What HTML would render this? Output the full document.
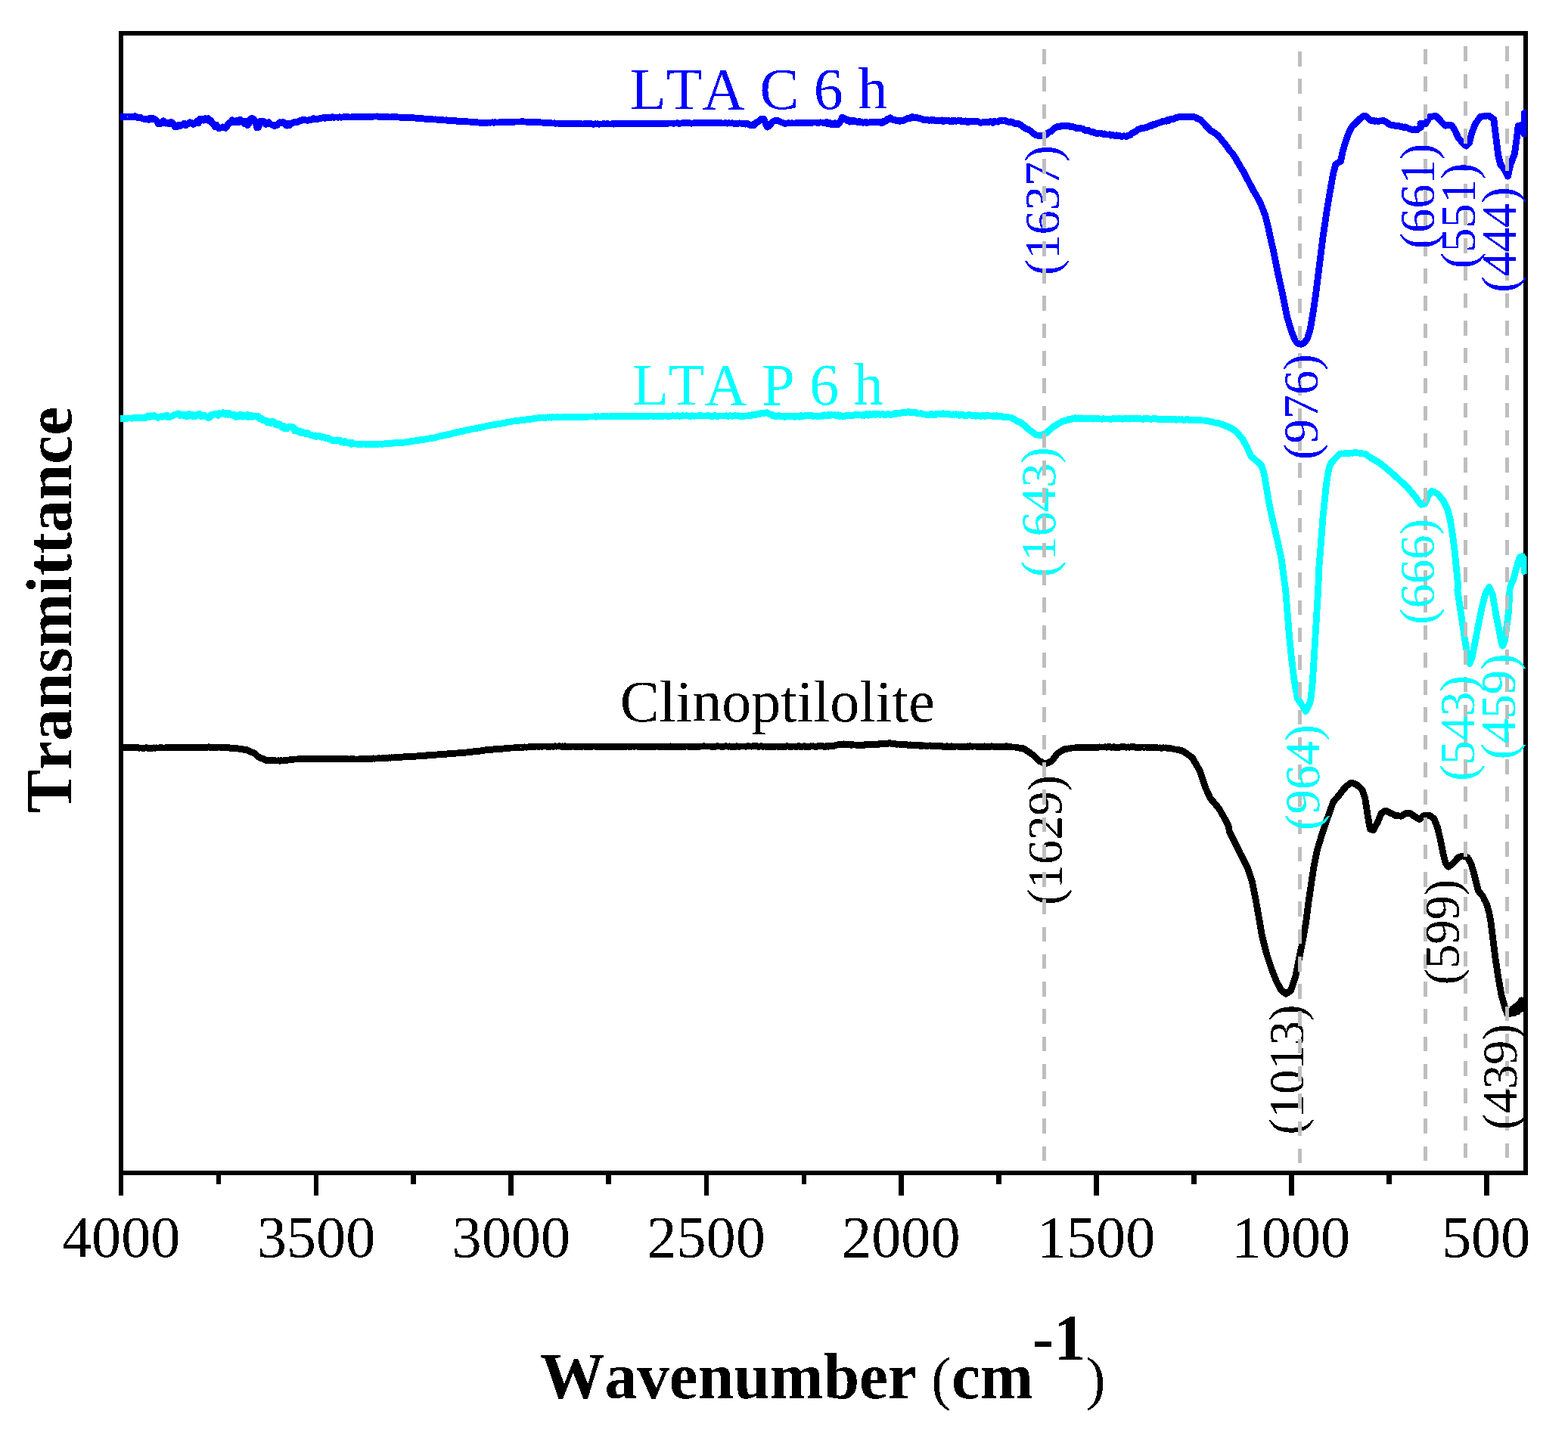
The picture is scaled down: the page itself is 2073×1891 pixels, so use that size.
<!DOCTYPE html>
<html lang="en"><head><meta charset="utf-8"><title>FTIR spectra</title>
<style>
html,body{margin:0;padding:0;background:#fff;}
body{width:2073px;height:1891px;overflow:hidden;}
svg{display:block;}
text{font-family:"Liberation Serif",serif;font-kerning:none;font-variant-ligatures:none;}
</style></head><body>
<svg width="2073" height="1891" viewBox="0 0 2073 1891" role="img" aria-label="FTIR transmittance spectra of LTA C 6 h, LTA P 6 h and Clinoptilolite">
<rect x="0" y="0" width="2073" height="1891" fill="#fff"/>
<g id="frame" fill="#000" shape-rendering="crispEdges">
<rect x="157" y="41" width="1863" height="6"/>
<rect x="157" y="1548" width="1863" height="6"/>
<rect x="157" y="41" width="6" height="1513"/>
<rect x="2014" y="41" width="6" height="1513"/>
<rect x="157" y="1551" width="6" height="30"/>
<rect x="286" y="1551" width="6" height="15"/>
<rect x="415" y="1551" width="6" height="30"/>
<rect x="543" y="1551" width="7" height="15"/>
<rect x="672" y="1551" width="7" height="30"/>
<rect x="801" y="1551" width="7" height="15"/>
<rect x="931" y="1551" width="6" height="30"/>
<rect x="1060" y="1551" width="6" height="15"/>
<rect x="1188" y="1551" width="7" height="30"/>
<rect x="1317" y="1551" width="7" height="15"/>
<rect x="1446" y="1551" width="7" height="30"/>
<rect x="1575" y="1551" width="7" height="15"/>
<rect x="1704" y="1551" width="7" height="30"/>
<rect x="1833" y="1551" width="7" height="15"/>
<rect x="1962" y="1551" width="7" height="30"/>
</g>
<defs><filter id="hard" x="-5%" y="-5%" width="110%" height="110%" color-interpolation-filters="sRGB"><feComponentTransfer><feFuncA type="discrete" tableValues="0 1"/></feComponentTransfer></filter></defs>
<defs><clipPath id="plotclip"><rect x="157" y="41" width="1861.5" height="1513"/></clipPath></defs>
<g id="curves" fill="none" stroke-width="8.8" stroke-linejoin="round" stroke-linecap="butt" clip-path="url(#plotclip)" shape-rendering="crispEdges">
<path stroke="#00ffff" d="M158.9 553.3 L160.5 553.3 L162.1 553.3 L163.7 553.5 L165.3 553.2 L166.9 553.1 L168.5 553.1 L170.1 552.9 L171.7 553.0 L173.4 553.1 L175.0 553.1 L176.6 552.7 L178.2 552.7 L179.8 552.8 L181.4 552.5 L183.0 552.8 L184.6 552.6 L186.2 552.2 L187.8 552.6 L189.4 552.5 L191.0 552.7 L192.7 552.5 L194.3 550.6 L195.9 549.9 L197.5 551.8 L199.1 549.9 L200.7 550.3 L202.3 550.4 L203.9 549.5 L205.6 551.1 L207.2 550.9 L208.8 552.4 L210.4 551.0 L212.0 550.8 L213.7 551.2 L215.5 550.5 L217.2 551.0 L218.9 550.0 L220.7 549.1 L222.4 551.8 L224.2 551.6 L225.9 550.8 L227.6 550.1 L229.4 549.1 L231.1 548.3 L232.9 547.8 L234.7 547.9 L236.5 547.0 L238.2 549.6 L240.0 548.1 L241.8 548.4 L243.4 550.0 L245.1 548.3 L246.7 550.8 L248.4 550.6 L250.0 547.4 L251.7 549.6 L253.3 548.2 L255.0 550.8 L256.6 548.9 L258.3 550.7 L260.0 548.2 L261.6 548.4 L263.4 547.1 L265.2 549.8 L266.9 550.9 L268.7 549.3 L270.5 549.0 L272.2 550.5 L274.0 551.6 L275.8 553.0 L277.6 551.7 L279.3 548.7 L281.1 548.7 L282.9 547.7 L284.6 547.1 L286.4 548.4 L288.1 549.3 L289.7 546.5 L291.4 547.7 L293.0 547.0 L294.7 545.7 L296.3 546.6 L298.1 548.0 L299.9 546.0 L301.6 548.5 L303.4 546.8 L305.2 548.4 L307.0 548.0 L308.7 549.6 L310.4 548.7 L312.0 551.5 L313.7 550.8 L315.3 548.8 L317.0 551.1 L318.7 548.4 L320.3 549.2 L322.0 551.0 L323.6 549.6 L325.3 550.3 L326.9 548.3 L328.6 552.0 L330.2 549.0 L331.9 549.3 L333.5 551.5 L335.2 549.9 L336.8 549.9 L338.5 550.8 L340.1 550.0 L341.8 550.9 L343.5 553.7 L345.1 553.1 L346.8 555.4 L348.4 555.8 L350.1 555.7 L351.7 556.4 L353.4 558.9 L355.0 557.4 L356.7 558.2 L358.3 559.7 L360.0 557.4 L361.6 557.7 L363.3 559.5 L364.9 561.8 L366.6 562.2 L368.3 560.6 L369.9 561.0 L371.6 563.9 L373.2 565.4 L374.9 563.1 L376.5 566.8 L378.2 565.7 L379.8 566.7 L381.5 565.0 L383.1 564.0 L384.8 564.7 L386.4 564.4 L388.1 565.1 L389.7 569.8 L391.4 567.9 L393.1 569.9 L394.7 571.2 L396.4 569.9 L398.0 572.7 L399.7 572.2 L401.3 571.8 L403.0 572.0 L404.6 573.8 L406.3 572.7 L407.9 573.6 L409.6 574.8 L411.2 576.0 L412.9 575.6 L414.6 576.3 L416.3 575.9 L418.0 577.8 L419.8 576.5 L421.5 576.4 L423.2 577.4 L424.9 578.2 L426.6 577.6 L428.4 578.3 L430.1 579.1 L431.8 580.0 L433.5 579.3 L435.2 580.6 L436.8 580.6 L438.4 582.2 L440.1 582.7 L441.7 582.2 L443.3 582.6 L444.9 582.7 L446.5 581.9 L448.1 582.0 L449.7 582.2 L451.3 584.7 L453.0 584.5 L454.6 585.4 L456.2 583.5 L457.8 585.3 L459.4 585.2 L461.0 586.1 L462.6 585.4 L464.2 587.4 L465.8 585.5 L467.5 586.8 L469.1 587.0 L470.8 587.0 L472.4 587.2 L474.1 587.1 L475.7 587.1 L477.4 587.2 L479.0 587.3 L480.7 587.0 L482.3 587.3 L484.0 587.5 L485.6 587.5 L487.3 587.3 L489.0 587.5 L490.6 587.6 L492.3 587.5 L493.9 587.5 L495.6 587.4 L497.2 587.5 L498.8 587.5 L500.5 587.4 L502.1 587.0 L503.7 587.2 L505.3 587.3 L506.9 587.1 L508.5 586.9 L510.2 586.6 L511.8 586.7 L513.4 586.5 L515.0 586.3 L516.6 586.5 L518.2 585.9 L519.9 586.2 L521.5 585.6 L523.1 585.9 L524.7 585.7 L526.3 585.4 L528.0 585.6 L529.6 585.4 L531.2 585.4 L532.8 585.4 L534.4 585.1 L536.0 584.7 L537.7 584.3 L539.3 584.2 L540.9 584.2 L542.5 583.7 L544.1 583.4 L545.7 583.6 L547.4 583.2 L549.0 582.8 L550.6 582.8 L552.2 582.2 L553.8 582.2 L555.5 581.7 L557.1 581.6 L558.7 581.5 L560.3 581.3 L561.9 581.1 L563.5 580.5 L565.2 580.4 L566.8 580.0 L568.4 579.6 L570.0 579.6 L571.6 579.4 L573.2 579.2 L574.9 578.8 L576.5 578.4 L578.1 578.1 L579.7 577.3 L581.3 576.9 L582.9 576.7 L584.6 576.2 L586.2 575.8 L587.8 575.5 L589.4 575.3 L591.0 574.8 L592.7 574.3 L594.3 574.3 L595.9 574.0 L597.5 573.3 L599.1 572.7 L600.7 572.3 L602.4 572.4 L604.0 571.5 L605.6 571.6 L607.2 571.1 L608.8 570.7 L610.5 570.2 L612.1 570.2 L613.8 569.4 L615.4 569.1 L617.0 568.9 L618.7 568.3 L620.3 568.5 L622.0 567.8 L623.6 567.4 L625.2 567.0 L626.9 567.0 L628.5 566.5 L630.2 566.3 L631.8 566.0 L633.4 565.7 L635.1 565.5 L636.7 565.0 L638.4 564.3 L640.0 564.2 L641.6 563.8 L643.2 563.4 L644.9 563.0 L646.5 562.9 L648.1 562.8 L649.7 562.2 L651.3 561.9 L652.9 561.7 L654.6 561.6 L656.2 561.2 L657.8 560.9 L659.4 560.7 L661.0 560.2 L662.6 560.1 L664.3 559.9 L665.9 559.1 L667.5 559.3 L669.1 558.9 L670.7 558.2 L672.3 558.1 L674.0 557.9 L675.6 557.8 L677.2 557.2 L678.8 556.9 L680.4 556.8 L682.1 556.8 L683.7 556.5 L685.3 556.4 L686.9 555.9 L688.5 555.8 L690.1 555.3 L691.8 555.4 L693.4 555.3 L695.0 554.9 L696.6 554.8 L698.2 554.2 L699.8 554.4 L701.5 554.3 L703.1 554.1 L704.7 553.6 L706.3 553.5 L707.9 553.0 L709.6 553.2 L711.2 552.9 L712.8 552.4 L714.4 552.3 L716.0 552.0 L717.6 552.2 L719.2 552.2 L720.8 552.3 L722.4 552.1 L724.0 551.8 L725.6 552.2 L727.2 551.7 L728.8 552.2 L730.4 551.7 L732.0 551.8 L733.6 552.1 L735.2 551.6 L736.8 551.6 L738.4 551.8 L740.0 551.9 L741.6 551.9 L743.2 551.8 L744.8 551.9 L746.4 551.6 L748.0 551.9 L749.6 551.3 L751.2 551.4 L752.8 551.5 L754.4 551.3 L756.0 551.6 L757.6 551.5 L759.2 551.4 L760.8 551.5 L762.4 551.3 L764.0 551.3 L765.6 551.1 L767.2 551.2 L768.8 551.4 L770.4 551.4 L772.0 551.0 L773.6 551.3 L775.2 551.4 L776.8 551.1 L778.4 551.1 L780.0 550.9 L781.6 551.0 L783.2 551.0 L784.8 551.0 L786.4 550.7 L788.0 551.2 L789.6 550.9 L791.2 550.8 L792.8 551.0 L794.4 550.9 L796.0 550.8 L797.6 550.9 L799.2 550.5 L800.8 550.7 L802.4 550.6 L804.0 550.9 L805.6 550.9 L807.2 550.5 L808.8 550.6 L810.4 550.3 L812.0 550.5 L813.6 550.5 L815.2 550.7 L816.8 550.7 L818.5 550.5 L820.1 550.4 L821.7 550.3 L823.3 550.5 L824.9 550.7 L826.6 550.2 L828.2 550.6 L829.8 550.1 L831.4 550.2 L833.0 550.2 L834.6 550.5 L836.3 550.3 L837.9 550.3 L839.5 550.4 L841.1 550.1 L842.7 550.5 L844.3 550.1 L846.0 550.3 L847.6 550.1 L849.2 550.1 L850.8 550.3 L852.4 550.2 L854.0 550.2 L855.7 550.2 L857.3 550.3 L858.9 550.0 L860.5 550.0 L862.1 550.3 L863.8 550.3 L865.4 550.2 L867.0 550.4 L868.6 550.2 L870.2 550.4 L871.8 550.0 L873.5 550.3 L875.1 550.3 L876.7 550.3 L878.3 550.0 L879.9 550.0 L881.5 550.3 L883.2 549.9 L884.8 550.4 L886.4 550.3 L888.0 550.0 L889.6 549.8 L891.2 549.9 L892.8 550.2 L894.4 549.9 L896.0 549.8 L897.6 550.2 L899.2 550.0 L900.8 550.2 L902.4 549.8 L904.0 550.0 L905.6 550.1 L907.2 549.7 L908.8 549.9 L910.4 550.1 L912.0 550.3 L913.6 550.3 L915.2 549.8 L916.8 550.0 L918.4 550.2 L920.0 550.0 L921.6 550.1 L923.2 549.8 L924.8 549.8 L926.4 549.8 L928.0 549.8 L929.6 550.1 L931.2 550.0 L932.8 550.1 L934.4 549.8 L936.0 549.8 L937.6 549.9 L939.2 550.2 L940.8 550.3 L942.4 550.3 L944.0 549.8 L945.6 549.8 L947.2 550.3 L948.8 550.0 L950.4 550.2 L952.0 549.9 L953.6 550.0 L955.2 550.0 L956.8 550.0 L958.4 550.1 L960.0 549.7 L961.6 550.2 L963.2 550.2 L964.8 549.8 L966.4 550.0 L968.0 550.2 L969.6 550.0 L971.2 549.8 L972.8 549.8 L974.4 550.0 L976.0 549.7 L977.6 550.3 L979.2 550.2 L980.8 550.4 L982.4 550.7 L984.0 550.3 L985.6 549.9 L987.2 550.0 L988.9 549.9 L990.5 549.4 L992.2 550.0 L993.8 549.4 L995.5 548.1 L997.1 549.0 L998.8 548.3 L1000.4 548.1 L1002.1 547.3 L1004.0 547.6 L1005.8 546.6 L1007.7 547.1 L1009.5 546.8 L1011.4 546.2 L1013.3 545.6 L1015.1 546.9 L1017.0 547.7 L1018.8 547.9 L1020.7 549.3 L1022.6 548.9 L1024.4 550.5 L1026.1 550.2 L1027.7 550.5 L1029.4 549.6 L1031.0 550.3 L1032.7 550.8 L1034.3 550.7 L1036.0 550.0 L1037.7 551.3 L1039.3 550.8 L1041.0 550.2 L1042.6 550.8 L1044.3 550.7 L1045.9 550.6 L1047.6 550.3 L1049.2 550.5 L1050.8 551.4 L1052.5 550.7 L1054.1 550.8 L1055.7 550.9 L1057.3 551.2 L1058.9 549.5 L1060.5 550.5 L1062.2 550.7 L1063.8 549.8 L1065.4 550.0 L1067.0 549.4 L1068.6 549.6 L1070.3 549.9 L1071.9 549.4 L1073.5 549.6 L1075.1 550.7 L1076.7 550.1 L1078.3 550.0 L1080.0 550.8 L1081.6 550.0 L1083.2 550.7 L1084.8 550.1 L1086.4 549.8 L1088.1 550.2 L1089.8 548.8 L1091.5 549.6 L1093.2 549.8 L1094.9 548.4 L1096.6 549.9 L1098.3 548.4 L1100.0 548.9 L1101.7 549.0 L1103.3 548.6 L1105.0 549.4 L1106.6 549.7 L1108.3 548.8 L1109.9 550.6 L1111.6 549.8 L1113.2 550.1 L1114.9 550.2 L1116.6 550.3 L1118.3 549.8 L1120.0 549.5 L1121.7 550.1 L1123.5 549.8 L1125.2 549.2 L1126.9 549.9 L1128.6 549.1 L1130.3 548.5 L1132.1 548.8 L1133.8 548.3 L1135.5 548.4 L1137.2 548.9 L1138.9 549.3 L1140.5 548.6 L1142.2 549.4 L1143.8 549.0 L1145.5 547.6 L1147.1 549.2 L1148.8 549.1 L1150.4 547.4 L1152.1 548.8 L1153.7 547.8 L1155.4 547.8 L1157.0 548.6 L1158.7 547.2 L1160.4 547.6 L1162.0 547.5 L1163.7 548.3 L1165.5 548.0 L1167.2 547.6 L1168.9 548.6 L1170.7 548.4 L1172.4 548.1 L1174.2 547.3 L1175.9 548.3 L1177.6 548.1 L1179.4 548.2 L1181.1 547.4 L1182.8 546.8 L1184.5 547.4 L1186.2 546.4 L1188.0 546.7 L1189.7 546.8 L1191.4 546.1 L1193.1 545.5 L1194.8 545.8 L1196.5 545.2 L1198.3 545.6 L1200.0 544.8 L1201.7 544.5 L1203.4 545.7 L1205.1 545.9 L1206.8 545.8 L1208.6 545.2 L1210.3 545.2 L1212.0 546.9 L1213.7 547.0 L1215.4 547.0 L1217.1 546.8 L1218.9 546.9 L1220.6 548.0 L1222.3 548.0 L1224.0 548.2 L1225.7 548.3 L1227.3 548.3 L1229.0 548.5 L1230.6 547.4 L1232.3 547.5 L1233.9 548.8 L1235.6 548.6 L1237.2 548.5 L1238.9 546.9 L1240.5 546.9 L1242.2 547.2 L1243.8 547.5 L1245.5 547.8 L1247.2 546.8 L1248.8 547.5 L1250.5 547.6 L1252.1 546.9 L1253.8 547.0 L1255.4 548.2 L1257.1 548.0 L1258.7 548.3 L1260.4 547.9 L1262.0 548.2 L1263.7 547.8 L1265.3 548.2 L1267.0 549.0 L1268.7 549.3 L1270.3 548.0 L1272.0 548.2 L1273.6 548.9 L1275.2 549.5 L1276.8 549.3 L1278.5 549.6 L1280.1 548.6 L1281.7 549.0 L1283.3 548.8 L1284.9 549.8 L1286.6 549.1 L1288.2 549.6 L1289.8 550.3 L1291.4 549.1 L1293.0 549.6 L1294.6 550.0 L1296.3 550.3 L1297.9 549.5 L1299.5 549.4 L1301.1 549.0 L1302.7 550.4 L1304.3 549.0 L1306.0 549.1 L1307.6 550.0 L1309.2 549.9 L1310.8 549.9 L1312.5 550.4 L1314.1 549.8 L1315.8 550.8 L1317.4 549.7 L1319.1 550.1 L1320.7 551.0 L1322.4 550.1 L1324.0 550.6 L1325.7 551.5 L1327.3 551.6 L1329.0 551.0 L1330.7 551.3 L1332.3 551.6 L1334.0 551.9 L1335.6 551.9 L1337.3 552.7 L1338.9 553.3 L1340.6 554.5 L1342.2 555.3 L1343.9 556.3 L1345.5 557.1 L1347.2 558.0 L1348.8 558.5 L1350.5 559.4 L1352.1 561.0 L1353.8 562.1 L1355.5 563.6 L1357.1 565.1 L1358.8 566.9 L1360.4 568.0 L1362.2 569.6 L1363.9 570.6 L1365.6 572.0 L1367.4 573.3 L1369.1 574.7 L1371.2 575.1 L1373.2 575.5 L1375.3 576.0 L1377.2 575.2 L1379.0 574.3 L1380.9 573.8 L1382.7 573.0 L1384.4 571.7 L1386.0 570.1 L1387.7 568.9 L1389.4 567.3 L1391.0 565.6 L1392.7 564.3 L1394.4 563.4 L1396.2 562.4 L1398.0 561.0 L1399.7 559.8 L1401.5 559.0 L1403.3 558.0 L1405.1 556.9 L1406.7 556.6 L1408.4 556.6 L1410.0 555.8 L1411.7 555.6 L1413.3 554.3 L1415.0 554.5 L1416.6 554.3 L1418.3 553.1 L1419.9 553.2 L1421.5 552.7 L1423.2 553.5 L1424.8 553.7 L1426.4 552.8 L1428.0 553.5 L1429.6 552.9 L1431.2 553.7 L1432.8 553.6 L1434.4 553.1 L1436.0 553.1 L1437.6 553.8 L1439.2 553.5 L1440.8 553.9 L1442.4 553.4 L1444.0 553.4 L1445.6 554.2 L1447.2 553.7 L1448.8 553.9 L1450.4 553.7 L1452.0 553.7 L1453.6 553.9 L1455.2 553.9 L1456.8 554.2 L1458.4 553.6 L1460.0 554.1 L1461.6 553.9 L1463.2 554.1 L1464.8 554.0 L1466.4 554.1 L1468.0 554.1 L1469.6 554.2 L1471.2 553.8 L1472.8 553.7 L1474.4 553.9 L1476.0 554.0 L1477.6 553.6 L1479.2 553.6 L1480.8 553.2 L1482.4 554.0 L1484.0 554.2 L1485.6 553.5 L1487.2 553.3 L1488.8 553.3 L1490.4 553.6 L1492.0 553.4 L1493.6 554.2 L1495.2 553.1 L1496.8 553.7 L1498.4 553.5 L1500.0 553.2 L1501.6 553.9 L1503.2 554.1 L1504.8 553.4 L1506.4 553.3 L1508.0 553.8 L1509.6 554.0 L1511.2 554.4 L1512.8 553.3 L1514.4 553.5 L1516.0 553.6 L1517.6 553.6 L1519.2 553.7 L1520.8 554.3 L1522.4 554.2 L1524.0 553.7 L1525.6 553.7 L1527.2 553.9 L1528.8 553.7 L1530.4 554.5 L1532.0 554.0 L1533.6 554.3 L1535.2 554.6 L1536.8 554.2 L1538.4 554.0 L1540.0 554.8 L1541.6 554.8 L1543.2 554.2 L1544.8 554.4 L1546.4 554.4 L1548.1 555.0 L1549.8 554.5 L1551.5 554.2 L1553.1 554.1 L1554.8 555.2 L1556.5 555.1 L1558.2 554.7 L1559.9 554.9 L1561.5 554.9 L1563.2 554.7 L1564.9 555.6 L1566.6 555.3 L1568.2 554.8 L1569.9 554.6 L1571.6 555.2 L1573.3 555.2 L1575.0 555.7 L1576.6 555.7 L1578.3 555.6 L1580.0 555.5 L1581.7 555.4 L1583.4 555.4 L1585.1 555.6 L1586.8 555.6 L1588.5 556.0 L1590.3 555.9 L1592.0 555.9 L1593.6 556.3 L1595.2 556.8 L1596.9 556.7 L1598.5 557.2 L1600.1 557.3 L1601.8 558.0 L1603.4 557.9 L1605.0 558.7 L1606.6 559.0 L1608.3 559.4 L1609.9 559.5 L1611.6 559.8 L1613.4 560.5 L1615.1 561.4 L1616.8 561.6 L1618.6 562.5 L1620.3 563.1 L1622.0 563.9 L1623.7 564.3 L1625.5 564.9 L1627.1 566.2 L1628.8 566.9 L1630.5 568.3 L1632.2 569.1 L1633.8 570.3 L1635.5 572.4 L1637.2 573.8 L1638.9 576.2 L1640.5 577.7 L1642.2 579.8 L1644.2 583.4 L1646.2 587.0 L1648.2 590.6 L1650.2 594.8 L1652.2 599.6 L1654.2 603.8 L1656.0 605.1 L1657.8 606.6 L1659.6 608.0 L1661.4 609.7 L1663.0 611.1 L1664.6 612.7 L1666.3 614.4 L1667.9 615.7 L1671.5 627.7 L1674.5 645.6 L1677.5 663.6 L1681.1 681.5 L1685.3 699.5 L1689.5 717.4 L1694.3 740.0 L1695.5 749.9 L1699.6 779.8 L1702.0 809.7 L1704.4 839.6 L1707.4 869.6 L1711.0 899.5 L1715.2 923.4 L1717.4 926.6 L1719.6 929.9 L1721.3 932.7 L1722.9 935.1 L1724.6 937.9 L1726.2 940.7 L1728.0 937.1 L1729.8 933.8 L1731.6 929.9 L1733.1 923.4 L1735.5 899.5 L1737.3 869.6 L1739.1 839.6 L1740.9 809.7 L1742.7 779.8 L1743.9 749.9 L1746.3 720.0 L1746.9 711.4 L1748.7 687.5 L1751.1 663.6 L1753.5 639.6 L1756.5 621.7 L1758.9 613.3 L1760.5 611.7 L1762.2 609.8 L1763.8 607.6 L1765.5 606.1 L1767.4 604.1 L1769.4 602.3 L1771.4 600.2 L1773.3 599.9 L1775.3 600.0 L1777.2 599.8 L1779.1 599.4 L1781.0 599.6 L1782.7 599.7 L1784.4 599.5 L1786.1 599.0 L1787.8 599.2 L1789.6 598.8 L1791.3 598.8 L1793.0 598.7 L1794.7 599.0 L1796.4 599.1 L1798.1 599.3 L1799.8 599.6 L1801.5 600.0 L1803.2 600.0 L1804.9 600.4 L1806.6 601.4 L1808.3 602.8 L1810.0 603.7 L1811.6 605.3 L1813.3 606.1 L1812.0 605.1 L1813.7 606.2 L1815.4 607.3 L1817.1 608.1 L1818.8 609.4 L1820.5 610.0 L1822.2 611.1 L1823.9 612.3 L1825.6 613.4 L1827.3 615.1 L1829.1 616.5 L1830.8 617.6 L1832.5 619.1 L1834.2 620.7 L1835.9 621.9 L1837.6 623.5 L1839.3 624.7 L1841.0 626.3 L1842.7 627.8 L1844.4 629.3 L1846.1 631.0 L1847.9 632.6 L1849.6 633.9 L1851.3 636.0 L1853.0 637.2 L1854.7 638.8 L1856.4 640.4 L1858.1 642.0 L1859.8 643.4 L1861.5 645.7 L1863.2 647.4 L1865.0 649.5 L1866.7 651.6 L1868.4 653.4 L1870.1 655.7 L1871.8 657.8 L1873.6 660.3 L1875.4 662.8 L1877.2 665.1 L1879.0 667.3 L1881.4 666.8 L1883.8 666.1 L1886.1 660.8 L1888.5 655.4 L1890.9 652.1 L1893.3 649.4 L1895.1 650.2 L1896.9 651.1 L1898.7 652.2 L1900.5 653.0 L1902.3 654.8 L1904.1 657.1 L1905.9 659.3 L1907.7 661.4 L1909.7 665.5 L1911.7 669.5 L1913.7 673.3 L1917.3 687.7 L1920.2 705.6 L1922.6 723.6 L1924.4 741.5 L1926.2 759.5 L1928.0 777.4 L1926.8 780.0 L1930.4 803.9 L1934.0 827.9 L1937.6 851.8 L1940.6 869.7 L1943.0 877.5 L1946.0 869.7 L1949.6 851.8 L1954.3 827.9 L1959.1 803.9 L1963.9 784.8 L1966.3 780.7 L1968.7 776.4 L1971.1 781.6 L1973.5 787.2 L1978.3 815.9 L1981.9 833.8 L1984.9 849.4 L1986.6 854.2 L1989.6 847.0 L1992.0 827.9 L1994.4 809.9 L1996.2 777.4 L2001.0 765.5 L2005.8 747.5 L2009.4 736.7 L2012.4 735.5 L2014.2 747.5 L2015.1 739.1 L2016.0 759.5"/>
<path stroke="#0000ff" d="M158.9 154.6 L160.5 154.5 L162.1 154.4 L163.7 154.7 L165.3 154.3 L166.9 154.6 L168.5 154.5 L170.1 154.3 L171.7 154.6 L173.4 154.3 L175.0 154.5 L176.6 154.3 L178.2 153.7 L179.8 154.6 L181.4 154.8 L183.1 156.0 L184.7 155.1 L186.4 155.7 L188.0 156.9 L189.7 157.0 L191.4 158.0 L193.1 157.3 L194.8 157.0 L196.5 158.2 L198.2 156.4 L199.9 158.1 L201.6 156.4 L203.3 157.5 L205.4 157.9 L207.5 159.9 L209.5 164.0 L211.2 162.0 L212.8 163.4 L214.5 160.8 L216.1 159.7 L217.8 162.2 L219.4 163.1 L221.1 162.3 L222.8 163.7 L224.4 164.0 L226.1 161.5 L227.7 162.1 L229.4 163.7 L231.0 167.6 L232.7 166.4 L234.3 167.5 L236.2 165.5 L238.0 166.8 L239.9 165.3 L241.8 165.0 L243.6 163.1 L245.5 165.6 L247.3 164.7 L249.2 163.2 L250.9 161.8 L252.5 163.2 L254.2 162.7 L255.8 164.3 L257.5 163.4 L259.1 162.0 L260.9 160.1 L262.6 162.6 L264.3 157.4 L266.1 158.0 L267.8 157.5 L269.7 159.2 L271.5 156.5 L273.4 158.5 L275.2 156.6 L277.1 160.0 L279.0 159.5 L280.7 163.4 L282.4 163.6 L284.2 167.7 L285.9 165.0 L287.6 168.2 L289.4 169.8 L291.1 169.0 L292.9 168.8 L294.6 167.9 L296.3 168.2 L298.2 169.4 L300.0 167.3 L301.9 163.4 L303.8 162.0 L305.4 162.3 L307.1 158.8 L308.7 161.5 L310.4 160.8 L312.0 162.0 L313.7 159.0 L315.6 162.0 L317.4 158.2 L319.3 159.4 L321.1 160.8 L323.2 163.8 L325.3 160.3 L327.3 165.7 L329.4 162.4 L331.5 157.0 L333.5 156.5 L335.6 157.6 L337.7 161.3 L339.7 168.9 L341.8 168.4 L343.9 160.5 L345.9 160.8 L347.8 160.1 L349.7 161.5 L351.5 164.5 L353.4 163.2 L355.2 161.6 L357.1 163.9 L359.0 164.8 L360.8 165.0 L362.7 166.5 L364.5 165.7 L366.4 165.5 L368.3 163.2 L370.1 161.8 L372.0 162.2 L373.8 161.6 L375.7 162.0 L377.6 164.9 L379.4 166.2 L381.3 163.0 L383.1 165.7 L385.0 163.2 L386.9 162.5 L388.7 161.6 L390.6 162.0 L392.4 161.3 L394.3 161.2 L396.2 159.7 L398.0 159.5 L399.7 158.3 L401.3 159.0 L403.0 158.7 L404.6 158.9 L406.3 159.4 L407.9 158.7 L409.6 158.2 L411.2 158.2 L412.9 158.1 L414.6 156.6 L416.2 158.1 L417.9 157.7 L419.5 157.7 L421.2 157.3 L422.8 156.5 L424.5 156.2 L426.1 156.1 L427.8 155.5 L429.4 156.4 L431.1 155.2 L432.7 155.1 L434.4 155.3 L436.0 155.1 L437.7 155.3 L439.4 154.7 L441.0 155.2 L442.7 155.1 L444.3 155.0 L446.0 155.1 L447.6 155.1 L449.2 154.7 L450.8 155.2 L452.4 155.0 L454.0 154.7 L455.6 154.8 L457.2 154.8 L458.8 154.8 L460.4 154.6 L462.0 155.0 L463.6 155.0 L465.2 154.7 L466.8 154.7 L468.4 154.4 L470.0 154.4 L471.6 154.5 L473.2 154.4 L474.8 154.7 L476.4 154.3 L478.0 154.2 L479.6 154.7 L481.2 154.4 L482.8 154.1 L484.4 154.3 L486.0 154.0 L487.6 154.3 L489.2 154.5 L490.8 154.4 L492.4 154.3 L494.0 154.0 L495.6 154.0 L497.2 154.1 L498.8 153.9 L500.4 154.3 L502.0 154.3 L503.6 154.5 L505.2 154.2 L506.8 154.2 L508.4 154.6 L510.0 154.8 L511.6 154.8 L513.2 154.8 L514.8 154.9 L516.4 154.9 L518.0 154.6 L519.6 154.9 L521.2 154.8 L522.8 154.7 L524.4 154.7 L526.0 154.9 L527.6 155.0 L529.2 155.3 L530.8 155.5 L532.4 155.3 L534.0 155.6 L535.6 155.7 L537.2 155.7 L538.8 155.4 L540.4 155.4 L542.0 155.5 L543.6 155.5 L545.2 155.6 L546.8 155.8 L548.4 156.0 L550.0 156.3 L551.6 156.4 L553.2 156.3 L554.8 156.5 L556.4 156.7 L558.0 156.4 L559.6 156.9 L561.2 157.1 L562.8 157.2 L564.4 157.3 L566.0 157.2 L567.6 157.2 L569.2 157.7 L570.8 157.5 L572.4 157.9 L574.0 158.1 L575.6 157.9 L577.2 158.0 L578.8 158.5 L580.4 158.5 L582.0 158.2 L583.6 158.3 L585.2 158.5 L586.8 159.0 L588.4 159.1 L590.0 158.8 L591.6 159.4 L593.2 159.6 L594.8 159.5 L596.4 159.5 L598.0 159.5 L599.7 159.8 L601.3 159.6 L602.9 159.7 L604.5 160.4 L606.1 160.3 L607.7 160.3 L609.3 160.7 L611.0 160.5 L612.6 160.8 L614.2 160.9 L615.8 160.7 L617.4 160.8 L619.0 160.9 L620.6 161.0 L622.2 161.3 L623.9 161.3 L625.5 161.5 L627.1 161.4 L628.7 162.0 L630.3 161.8 L631.9 161.9 L633.5 162.1 L635.2 162.4 L636.8 162.2 L638.4 162.6 L640.0 162.5 L641.6 162.4 L643.2 162.4 L644.8 162.3 L646.4 162.0 L648.0 162.2 L649.6 162.0 L651.2 161.8 L652.8 162.2 L654.4 161.8 L656.0 161.9 L657.6 162.0 L659.2 161.9 L660.8 161.7 L662.4 161.7 L664.0 161.7 L665.6 161.8 L667.2 161.3 L668.8 161.5 L670.4 161.3 L672.0 161.2 L673.6 161.5 L675.2 161.3 L676.8 161.2 L678.4 161.3 L680.0 161.3 L681.6 161.0 L683.2 161.1 L684.8 160.9 L686.4 160.9 L688.0 160.9 L689.6 160.8 L691.2 160.8 L692.8 160.9 L694.4 161.0 L696.0 161.3 L697.6 161.3 L699.2 161.5 L700.8 161.6 L702.4 161.3 L704.0 161.5 L705.6 161.8 L707.2 161.8 L708.8 161.5 L710.4 161.6 L712.0 161.8 L713.6 161.7 L715.2 161.9 L716.8 161.9 L718.4 162.3 L720.0 162.5 L721.6 162.6 L723.2 162.2 L724.8 162.7 L726.4 162.7 L728.0 162.5 L729.6 163.0 L731.2 163.1 L732.8 162.8 L734.4 163.3 L736.0 163.0 L737.6 163.2 L739.2 163.2 L740.8 163.6 L742.4 163.5 L744.0 163.1 L745.6 163.3 L747.2 163.4 L748.8 163.3 L750.4 163.2 L752.0 163.3 L753.6 163.6 L755.2 163.2 L756.8 163.5 L758.4 163.5 L760.0 163.3 L761.6 163.5 L763.2 163.7 L764.8 163.6 L766.4 163.4 L768.0 164.0 L769.6 163.9 L771.2 164.0 L772.8 163.5 L774.4 163.6 L776.0 163.5 L777.6 164.0 L779.2 163.7 L780.8 163.6 L782.4 163.8 L784.0 164.2 L785.6 164.1 L787.2 163.8 L788.8 164.0 L790.4 163.8 L792.0 164.2 L793.7 164.0 L795.3 164.1 L796.9 163.7 L798.5 163.7 L800.1 164.0 L801.7 163.9 L803.4 163.6 L805.0 164.1 L806.6 164.0 L808.2 164.0 L809.8 163.6 L811.5 164.1 L813.1 163.6 L814.7 164.0 L816.3 163.8 L817.9 163.7 L819.5 163.8 L821.2 164.0 L822.8 163.6 L824.4 163.5 L826.0 163.8 L827.6 163.6 L829.2 163.5 L830.9 163.5 L832.5 163.4 L834.1 163.5 L835.7 163.6 L837.3 163.5 L839.0 163.8 L840.6 163.5 L842.2 163.6 L843.8 163.4 L845.4 163.5 L847.0 163.3 L848.7 163.4 L850.3 163.3 L851.9 163.7 L853.5 163.6 L855.1 163.4 L856.7 163.5 L858.4 163.8 L860.0 163.3 L861.6 163.7 L863.2 163.5 L864.8 163.4 L866.4 163.4 L868.1 163.6 L869.7 163.3 L871.3 163.4 L872.9 163.5 L874.5 163.6 L876.2 163.2 L877.8 163.5 L879.4 163.4 L881.0 163.3 L882.6 163.2 L884.2 163.1 L885.9 162.9 L887.5 162.9 L889.1 162.9 L890.7 163.3 L892.3 163.0 L893.9 162.9 L895.6 162.8 L897.2 163.2 L898.8 163.2 L900.4 163.1 L902.0 162.8 L903.7 162.8 L905.3 162.8 L906.9 162.9 L908.5 162.7 L910.1 162.8 L911.7 162.7 L913.4 163.1 L915.0 163.1 L916.6 162.8 L918.2 162.6 L919.8 163.0 L921.4 162.6 L923.1 162.6 L924.7 162.4 L926.3 162.6 L927.9 162.6 L929.5 162.6 L931.1 162.4 L932.8 162.6 L934.4 162.2 L936.0 162.4 L937.6 162.5 L939.2 162.3 L940.8 162.5 L942.4 162.3 L944.0 162.3 L945.6 162.5 L947.2 162.5 L948.8 162.7 L950.4 162.7 L952.0 162.9 L953.6 162.8 L955.2 162.9 L956.8 163.0 L958.4 162.7 L960.0 162.7 L961.6 163.2 L963.2 162.7 L964.8 163.0 L966.4 163.0 L968.0 162.7 L969.6 163.2 L971.2 163.2 L972.8 163.1 L974.4 163.2 L976.0 163.3 L977.6 162.9 L979.2 163.1 L980.8 163.2 L982.4 163.4 L984.0 163.4 L985.6 164.2 L987.2 163.2 L988.9 163.9 L990.5 165.2 L992.2 165.0 L993.8 165.5 L995.5 164.5 L997.1 165.7 L999.0 162.8 L1000.9 161.5 L1002.7 160.7 L1004.6 159.5 L1006.2 157.5 L1007.9 158.9 L1009.5 157.0 L1011.2 160.9 L1012.9 164.9 L1014.5 168.2 L1016.4 166.7 L1018.2 165.0 L1020.1 162.6 L1021.9 160.8 L1023.6 159.9 L1025.3 159.8 L1026.9 159.0 L1028.6 159.9 L1030.2 160.4 L1031.9 161.2 L1033.5 161.9 L1035.2 162.3 L1036.8 163.2 L1038.5 163.3 L1040.1 163.0 L1041.8 162.8 L1043.4 162.9 L1045.1 163.1 L1046.7 162.8 L1048.4 163.0 L1050.1 163.1 L1051.7 162.8 L1053.4 162.7 L1055.0 162.7 L1056.7 162.8 L1058.3 162.8 L1060.0 162.6 L1061.6 162.5 L1063.3 162.6 L1064.9 162.2 L1066.6 162.2 L1068.2 162.2 L1069.9 162.5 L1071.5 162.2 L1073.2 162.3 L1074.9 161.9 L1076.5 161.9 L1078.2 162.0 L1079.8 162.2 L1081.5 162.2 L1083.1 162.2 L1084.8 161.9 L1086.4 162.0 L1088.1 162.2 L1089.8 162.2 L1091.5 162.4 L1093.2 161.5 L1094.9 164.0 L1096.6 162.0 L1098.3 164.5 L1100.0 163.2 L1101.9 165.0 L1103.7 162.7 L1105.6 164.4 L1107.4 165.0 L1109.5 162.6 L1111.6 159.8 L1113.6 155.1 L1115.7 156.4 L1117.8 157.3 L1119.8 159.5 L1121.6 158.8 L1123.4 161.2 L1125.2 159.2 L1126.9 160.5 L1128.7 159.3 L1130.5 160.6 L1132.2 160.8 L1134.0 161.8 L1135.7 160.3 L1137.5 161.8 L1139.2 161.3 L1140.9 162.2 L1142.7 161.9 L1144.4 161.1 L1146.1 162.6 L1147.9 161.9 L1149.6 162.0 L1151.3 161.1 L1153.1 161.0 L1154.8 162.0 L1156.5 161.9 L1158.3 161.6 L1160.0 161.3 L1161.8 161.7 L1163.5 161.6 L1165.2 162.7 L1167.0 162.0 L1168.6 160.0 L1170.3 160.4 L1171.9 159.6 L1173.6 157.1 L1175.2 157.7 L1176.9 155.8 L1178.7 157.2 L1180.6 158.5 L1182.5 158.2 L1184.3 159.5 L1186.0 159.3 L1187.6 159.3 L1189.3 160.5 L1190.9 159.7 L1192.6 159.2 L1194.2 159.5 L1196.0 158.7 L1197.8 157.7 L1199.6 156.5 L1201.3 155.9 L1203.1 156.7 L1204.9 154.8 L1206.6 154.6 L1208.3 155.8 L1210.0 154.9 L1211.6 155.3 L1213.3 156.2 L1214.9 156.0 L1216.6 157.0 L1218.3 157.0 L1220.0 158.3 L1221.7 158.4 L1223.4 158.4 L1225.2 158.3 L1226.9 159.0 L1228.6 159.3 L1230.3 158.7 L1232.0 159.2 L1233.7 158.1 L1235.5 159.6 L1237.2 159.2 L1238.9 159.5 L1240.5 160.1 L1242.2 159.9 L1243.8 159.2 L1245.5 158.8 L1247.2 160.6 L1248.8 159.0 L1250.5 159.7 L1252.1 159.5 L1253.8 159.4 L1255.4 160.4 L1257.1 160.9 L1258.7 159.5 L1260.4 160.3 L1262.0 159.6 L1263.7 160.2 L1265.3 159.9 L1267.0 159.5 L1268.7 159.5 L1270.3 159.6 L1272.0 161.0 L1273.6 160.3 L1275.2 160.3 L1276.8 159.9 L1278.4 161.3 L1280.1 161.6 L1281.7 160.6 L1283.3 160.1 L1284.9 160.3 L1286.5 160.1 L1288.1 160.7 L1289.7 160.3 L1291.3 160.7 L1293.0 160.8 L1294.6 161.5 L1296.2 162.3 L1297.8 162.1 L1299.4 161.5 L1301.0 161.6 L1302.6 161.9 L1304.2 161.7 L1305.9 162.0 L1307.6 161.5 L1309.3 160.7 L1311.0 161.0 L1312.7 162.2 L1314.4 160.3 L1316.2 160.9 L1317.9 160.9 L1319.6 161.2 L1321.3 159.7 L1323.0 159.6 L1324.7 159.4 L1326.5 159.5 L1328.2 159.5 L1329.8 159.8 L1331.5 161.0 L1333.1 161.3 L1334.8 161.7 L1336.4 160.9 L1338.1 161.3 L1339.7 162.7 L1341.4 163.4 L1343.1 163.2 L1344.7 163.8 L1346.4 163.4 L1348.0 164.5 L1349.7 165.4 L1351.3 167.1 L1353.0 168.0 L1354.6 169.1 L1356.3 170.3 L1357.9 170.7 L1359.7 171.5 L1361.5 172.5 L1363.3 173.7 L1365.0 175.4 L1366.8 176.8 L1368.6 178.3 L1370.3 178.9 L1372.0 179.3 L1373.6 179.4 L1375.3 179.7 L1377.0 179.5 L1378.6 179.8 L1380.3 179.9 L1382.1 177.9 L1384.0 177.5 L1385.8 175.4 L1387.7 174.4 L1389.4 173.8 L1391.0 172.3 L1392.7 170.7 L1394.3 169.3 L1396.0 168.3 L1397.6 167.5 L1399.4 167.5 L1401.2 167.5 L1402.9 166.5 L1404.7 166.3 L1406.5 166.8 L1408.2 166.7 L1410.0 166.5 L1411.8 166.6 L1413.5 166.7 L1415.2 167.5 L1417.0 167.0 L1418.7 167.7 L1420.4 168.2 L1422.2 169.2 L1423.9 169.1 L1425.6 169.7 L1427.4 169.4 L1429.0 169.9 L1430.7 170.1 L1432.3 170.6 L1434.0 172.2 L1435.6 172.3 L1437.3 172.3 L1439.0 172.4 L1440.6 173.6 L1442.3 174.3 L1443.9 174.5 L1445.6 174.8 L1447.2 175.6 L1448.9 176.1 L1450.5 176.7 L1452.2 175.9 L1453.8 175.9 L1455.5 176.5 L1457.1 176.8 L1458.8 177.4 L1460.4 176.9 L1462.1 178.0 L1463.8 178.1 L1465.4 178.0 L1467.1 177.8 L1468.7 179.1 L1470.4 178.4 L1472.0 178.9 L1473.8 179.5 L1475.5 178.8 L1477.2 179.0 L1479.0 179.9 L1480.7 179.5 L1482.4 180.5 L1484.2 180.1 L1485.9 179.8 L1487.6 180.0 L1489.4 180.6 L1491.1 179.5 L1492.9 178.9 L1494.6 178.3 L1496.3 176.1 L1498.1 175.5 L1499.8 174.3 L1501.5 174.3 L1503.3 172.2 L1505.0 171.0 L1506.7 170.7 L1508.4 169.6 L1510.0 169.5 L1511.6 169.7 L1513.2 169.2 L1514.8 168.5 L1516.4 168.3 L1518.0 167.7 L1519.6 166.4 L1521.2 165.6 L1522.8 166.2 L1524.4 165.4 L1526.0 163.9 L1527.6 164.3 L1529.2 163.4 L1530.8 162.8 L1532.4 162.3 L1534.0 162.0 L1535.7 161.1 L1537.3 160.4 L1538.9 160.3 L1540.5 159.9 L1542.1 160.3 L1543.8 158.6 L1545.4 159.3 L1547.0 157.8 L1548.6 157.5 L1550.3 157.7 L1551.9 157.3 L1553.5 156.2 L1555.1 155.2 L1556.8 155.3 L1558.4 154.7 L1560.0 154.4 L1561.6 154.7 L1563.3 154.3 L1564.9 154.4 L1566.5 154.7 L1568.2 154.2 L1569.8 154.4 L1571.4 154.6 L1573.1 154.6 L1574.7 154.2 L1576.3 154.2 L1577.9 154.4 L1579.9 155.0 L1581.8 156.4 L1583.7 156.8 L1585.6 157.9 L1587.5 158.6 L1589.2 160.7 L1590.9 162.3 L1592.6 164.1 L1594.4 166.4 L1596.1 168.1 L1597.8 169.8 L1599.5 171.8 L1601.3 173.1 L1603.1 174.1 L1604.9 175.2 L1606.7 176.3 L1608.5 177.9 L1610.3 179.0 L1612.2 181.6 L1614.1 183.8 L1616.0 186.4 L1617.9 188.3 L1619.8 190.9 L1621.5 193.0 L1623.2 195.4 L1625.0 197.9 L1626.7 200.1 L1628.4 202.0 L1630.1 204.1 L1631.8 206.5 L1633.5 209.3 L1635.2 212.3 L1636.9 215.5 L1638.6 217.9 L1640.3 221.2 L1642.0 224.1 L1643.8 226.8 L1645.5 230.3 L1647.2 233.5 L1648.9 236.6 L1650.6 239.7 L1652.3 243.0 L1654.0 246.2 L1655.7 249.6 L1657.6 253.1 L1659.5 256.0 L1661.5 259.4 L1663.4 263.1 L1665.3 266.3 L1667.1 270.6 L1668.9 275.0 L1670.7 279.5 L1672.5 284.3 L1677.3 303.4 L1680.8 320.0 L1683.2 329.9 L1689.2 359.8 L1695.8 389.7 L1701.8 419.6 L1707.2 437.6 L1709.6 443.6 L1712.0 449.6 L1713.7 451.5 L1715.5 453.7 L1717.6 454.8 L1719.7 455.2 L1721.8 454.7 L1723.9 453.7 L1726.3 450.7 L1728.7 447.2 L1732.3 435.2 L1735.9 413.7 L1739.5 389.7 L1742.5 365.8 L1745.5 341.9 L1748.4 317.9 L1751.4 297.4 L1754.4 277.1 L1758.0 255.5 L1762.2 231.6 L1765.8 217.3 L1767.4 216.2 L1769.1 215.2 L1770.7 214.3 L1772.4 213.7 L1774.8 201.7 L1779.0 187.3 L1783.7 174.2 L1786.1 170.0 L1788.5 165.8 L1790.0 165.0 L1792.0 163.2 L1794.0 161.0 L1796.0 159.1 L1798.0 157.1 L1800.0 155.4 L1802.0 153.7 L1804.1 153.8 L1806.2 153.7 L1807.8 155.3 L1809.4 156.9 L1811.1 158.5 L1812.7 159.7 L1814.4 159.9 L1816.1 159.5 L1817.8 160.4 L1819.4 159.9 L1821.1 160.3 L1822.8 160.2 L1824.5 159.9 L1826.1 160.1 L1827.8 159.5 L1829.5 159.7 L1831.2 160.5 L1832.8 161.6 L1834.5 162.5 L1836.2 164.3 L1837.9 165.0 L1839.6 165.4 L1841.3 165.4 L1843.0 165.7 L1844.7 166.6 L1846.4 166.3 L1848.1 166.3 L1849.8 166.8 L1851.7 167.5 L1853.7 167.7 L1855.6 168.4 L1857.5 167.9 L1859.4 168.6 L1861.4 169.4 L1863.4 170.5 L1865.4 171.0 L1867.1 171.5 L1868.7 171.7 L1870.4 170.9 L1872.1 171.3 L1873.8 171.6 L1876.1 169.7 L1878.5 168.6 L1877.9 163.2 L1879.6 163.1 L1881.2 164.0 L1882.9 163.8 L1884.5 163.8 L1886.5 161.1 L1888.5 157.3 L1890.5 154.3 L1892.2 154.5 L1893.9 154.0 L1895.5 153.7 L1897.2 154.1 L1898.9 153.7 L1900.9 156.3 L1902.9 157.7 L1904.9 160.3 L1906.9 162.3 L1908.8 164.4 L1910.8 166.2 L1912.5 165.8 L1914.2 165.9 L1915.9 165.5 L1917.5 165.5 L1919.2 165.6 L1921.6 169.3 L1924.0 173.4 L1925.8 177.7 L1927.6 181.8 L1929.6 184.3 L1931.6 186.4 L1933.6 189.0 L1936.0 190.8 L1938.4 193.2 L1940.5 191.0 L1942.5 189.0 L1945.5 177.0 L1950.3 163.8 L1952.1 161.6 L1953.9 158.9 L1955.7 156.5 L1957.5 154.3 L1959.3 153.9 L1961.1 154.0 L1962.9 153.7 L1964.7 153.2 L1966.5 153.0 L1968.3 153.1 L1969.9 154.2 L1971.6 155.5 L1973.2 156.7 L1974.9 157.9 L1977.8 181.8 L1980.8 205.7 L1983.8 217.7 L1985.6 219.8 L1987.4 222.3 L1989.2 224.9 L1991.3 229.2 L1993.4 233.2 L1997.0 217.7 L2002.4 203.3 L2005.4 181.8 L2007.2 166.2 L2009.3 165.9 L2011.3 165.6 L2014.0 172.2 L2014.7 177.0 L2015.4 149.5 L2016.1 177.0 L2016.5 145.9"/>
<path stroke="#000000" d="M158.9 988.6 L160.6 989.0 L162.3 989.0 L163.9 989.0 L165.6 988.4 L167.2 988.8 L168.9 988.7 L170.6 988.8 L172.2 988.5 L173.9 988.6 L175.6 988.9 L177.2 988.7 L178.9 988.9 L180.5 988.6 L182.2 988.7 L183.9 989.2 L185.5 989.0 L187.2 989.1 L188.8 989.1 L190.4 989.3 L192.1 989.0 L193.7 988.7 L195.3 989.3 L196.9 989.1 L198.5 989.2 L200.1 989.1 L201.8 989.4 L203.4 988.9 L205.0 989.2 L206.6 988.9 L208.2 989.0 L209.8 989.1 L211.5 988.8 L213.1 988.6 L214.7 988.9 L216.3 989.1 L217.9 989.0 L219.6 988.8 L221.2 989.0 L222.8 988.6 L224.4 988.9 L226.0 988.6 L227.6 988.7 L229.3 989.1 L230.9 988.6 L232.5 988.5 L234.1 988.5 L235.7 988.4 L237.3 988.6 L239.0 988.8 L240.6 989.0 L242.2 988.6 L243.8 988.6 L245.4 988.5 L247.0 988.6 L248.7 988.9 L250.3 988.7 L251.9 988.5 L253.5 988.4 L255.1 988.9 L256.8 988.8 L258.4 988.9 L260.0 988.4 L261.6 988.6 L263.2 988.6 L264.8 988.9 L266.4 988.6 L268.0 988.8 L269.6 988.1 L271.2 988.7 L272.8 987.9 L274.4 988.2 L276.1 987.8 L277.7 988.4 L279.3 988.3 L280.9 988.5 L282.5 988.3 L284.1 988.4 L285.7 988.0 L287.3 988.3 L288.9 987.9 L290.6 988.2 L292.3 988.0 L294.0 988.6 L295.8 988.3 L297.5 988.3 L299.2 988.3 L300.9 988.8 L302.6 988.7 L304.3 989.4 L306.1 989.6 L307.8 989.1 L309.5 989.2 L311.2 989.6 L312.9 989.8 L314.5 989.8 L316.2 990.3 L317.8 990.7 L319.5 990.5 L321.1 990.9 L322.8 991.5 L324.4 991.3 L326.1 991.6 L327.7 992.2 L329.4 993.3 L331.1 993.9 L332.7 994.7 L334.4 995.3 L336.0 995.8 L337.9 997.3 L339.7 999.1 L341.6 1000.7 L343.5 1002.0 L345.1 1002.7 L346.8 1003.0 L348.4 1003.7 L350.1 1004.4 L351.7 1005.3 L353.4 1005.7 L355.0 1005.8 L356.7 1005.8 L358.3 1006.0 L360.0 1005.5 L361.6 1005.9 L363.3 1005.7 L364.9 1005.9 L366.6 1006.1 L368.3 1005.8 L369.9 1006.2 L371.6 1005.7 L373.2 1006.0 L375.0 1005.8 L376.8 1005.6 L378.5 1005.2 L380.3 1005.2 L382.1 1004.9 L383.8 1004.7 L385.6 1004.5 L387.4 1004.5 L389.2 1003.9 L390.9 1004.0 L392.7 1004.1 L394.5 1003.6 L396.2 1003.9 L398.0 1003.5 L399.6 1003.3 L401.3 1003.6 L402.9 1003.3 L404.5 1003.5 L406.1 1003.4 L407.7 1003.2 L409.3 1003.6 L411.0 1003.5 L412.6 1003.6 L414.2 1003.5 L415.8 1003.5 L417.4 1003.5 L419.0 1003.4 L420.7 1003.7 L422.3 1003.2 L423.9 1003.7 L425.5 1003.7 L427.1 1003.5 L428.7 1003.7 L430.4 1003.6 L432.0 1003.6 L433.6 1003.4 L435.2 1003.5 L436.8 1003.4 L438.5 1003.4 L440.1 1003.4 L441.7 1003.9 L443.3 1003.5 L444.9 1003.6 L446.5 1003.6 L448.2 1003.9 L449.8 1003.7 L451.4 1003.7 L453.0 1003.6 L454.6 1003.6 L456.2 1003.5 L457.9 1003.6 L459.5 1003.7 L461.1 1004.0 L462.7 1003.9 L464.3 1003.6 L466.0 1003.9 L467.6 1003.7 L469.2 1004.0 L470.8 1003.9 L472.4 1004.0 L474.0 1004.1 L475.7 1003.7 L477.3 1004.0 L478.9 1003.6 L480.5 1004.0 L482.1 1003.7 L483.7 1003.3 L485.4 1003.7 L487.0 1003.3 L488.6 1003.3 L490.2 1003.1 L491.8 1003.4 L493.4 1002.9 L495.1 1003.2 L496.7 1003.0 L498.3 1003.1 L499.9 1002.8 L501.5 1002.6 L503.2 1003.0 L504.8 1002.8 L506.4 1002.4 L508.0 1002.9 L509.6 1002.5 L511.2 1002.7 L512.9 1002.1 L514.5 1001.9 L516.1 1002.2 L517.7 1001.8 L519.3 1002.1 L520.9 1001.8 L522.6 1001.8 L524.2 1001.7 L525.8 1001.7 L527.4 1001.6 L529.0 1001.4 L530.7 1001.3 L532.3 1001.0 L533.9 1000.8 L535.5 1000.7 L537.1 1001.1 L538.7 1000.6 L540.4 1000.6 L542.0 1000.4 L543.6 1000.5 L545.2 1000.4 L546.8 1000.3 L548.4 1000.4 L550.1 1000.0 L551.7 999.8 L553.3 999.9 L554.9 999.8 L556.5 999.8 L558.1 999.3 L559.8 999.6 L561.4 999.5 L563.0 999.4 L564.6 998.7 L566.2 998.8 L567.9 998.9 L569.5 998.8 L571.1 998.2 L572.7 998.3 L574.3 998.4 L575.9 998.3 L577.6 998.0 L579.2 997.7 L580.8 997.7 L582.4 997.4 L584.0 997.5 L585.6 997.3 L587.3 997.2 L588.9 997.3 L590.5 997.1 L592.1 996.8 L593.7 996.6 L595.4 996.5 L597.0 996.6 L598.6 996.3 L600.2 996.0 L601.8 996.3 L603.4 996.0 L605.1 996.1 L606.7 995.7 L608.3 995.7 L609.9 995.4 L611.5 995.4 L613.1 995.5 L614.8 995.4 L616.4 995.0 L618.0 994.8 L619.6 994.4 L621.2 994.6 L622.9 994.6 L624.6 994.1 L626.3 993.8 L628.1 993.4 L629.8 993.2 L631.5 993.2 L633.2 993.3 L634.9 993.0 L636.6 992.7 L638.3 992.5 L640.0 992.2 L641.6 991.9 L643.2 991.7 L644.9 991.8 L646.5 991.4 L648.1 991.5 L649.7 991.4 L651.3 991.2 L652.9 990.8 L654.6 990.7 L656.2 990.8 L657.8 990.4 L659.4 990.6 L661.0 990.3 L662.6 990.3 L664.3 990.2 L665.9 990.0 L667.5 989.8 L669.1 989.5 L670.7 989.4 L672.3 989.7 L674.0 989.1 L675.6 989.0 L677.2 989.0 L678.8 988.9 L680.4 988.8 L682.1 988.9 L683.7 988.5 L685.3 988.8 L686.9 988.2 L688.5 988.5 L690.1 988.3 L691.8 988.4 L693.4 987.9 L695.0 988.1 L696.6 988.2 L698.2 987.9 L699.8 987.5 L701.5 987.9 L703.1 987.9 L704.7 987.3 L706.3 987.6 L707.9 987.1 L709.6 987.0 L711.2 987.3 L712.8 987.2 L714.4 987.0 L716.0 987.3 L717.6 987.1 L719.3 987.0 L720.9 986.9 L722.5 987.1 L724.1 987.3 L725.7 987.1 L727.3 987.3 L729.0 986.9 L730.6 987.2 L732.2 987.2 L733.8 986.8 L735.4 987.2 L737.0 986.9 L738.7 986.9 L740.3 986.8 L741.9 987.2 L743.5 986.9 L745.1 987.4 L746.8 986.8 L748.4 987.3 L750.0 987.3 L751.6 987.1 L753.2 987.2 L754.8 987.3 L756.5 987.2 L758.1 986.9 L759.7 987.3 L761.3 987.1 L762.9 987.2 L764.5 987.2 L766.2 987.4 L767.8 987.1 L769.4 987.4 L771.0 986.9 L772.6 987.1 L774.3 987.3 L775.9 987.3 L777.5 987.4 L779.1 987.0 L780.7 987.4 L782.3 987.4 L784.0 987.0 L785.6 987.0 L787.2 987.3 L788.8 987.2 L790.4 987.5 L792.0 987.3 L793.6 987.2 L795.2 987.2 L796.8 987.4 L798.4 987.2 L800.0 987.3 L801.6 987.3 L803.2 987.5 L804.8 987.4 L806.4 987.4 L808.0 987.1 L809.6 987.3 L811.2 987.4 L812.8 987.4 L814.4 987.5 L816.0 987.5 L817.6 987.0 L819.2 987.2 L820.8 987.1 L822.4 987.1 L824.0 987.2 L825.6 987.5 L827.2 987.4 L828.8 987.0 L830.4 987.1 L832.0 987.2 L833.6 987.5 L835.2 987.2 L836.8 987.0 L838.4 987.3 L840.0 987.1 L841.6 987.0 L843.2 987.3 L844.8 987.5 L846.4 987.4 L848.0 987.4 L849.6 987.0 L851.2 987.3 L852.8 987.3 L854.4 987.4 L856.0 987.2 L857.6 987.0 L859.2 987.5 L860.8 987.1 L862.4 987.4 L864.0 987.2 L865.6 987.4 L867.2 987.1 L868.8 987.0 L870.4 987.2 L872.0 987.2 L873.6 987.4 L875.2 987.2 L876.8 987.3 L878.4 987.2 L880.0 987.4 L881.6 987.0 L883.2 987.5 L884.8 987.5 L886.4 986.9 L888.0 987.2 L889.6 987.4 L891.2 987.4 L892.8 987.3 L894.4 987.0 L896.0 987.4 L897.6 987.4 L899.2 987.3 L900.8 987.5 L902.4 987.5 L904.0 987.3 L905.6 987.4 L907.2 987.0 L908.8 987.1 L910.4 987.2 L912.0 987.2 L913.6 987.4 L915.2 987.2 L916.8 987.2 L918.4 987.2 L920.0 987.4 L921.6 987.1 L923.2 987.3 L924.8 987.2 L926.4 987.1 L928.0 987.0 L929.6 986.9 L931.2 986.8 L932.8 987.0 L934.4 987.0 L936.0 986.9 L937.6 987.1 L939.2 987.0 L940.8 987.4 L942.4 987.3 L944.0 987.2 L945.6 987.3 L947.2 986.9 L948.8 986.8 L950.4 987.1 L952.0 986.9 L953.6 987.4 L955.2 987.0 L956.8 987.3 L958.4 986.9 L960.0 986.8 L961.6 987.1 L963.2 987.2 L964.8 986.9 L966.4 987.3 L968.0 987.3 L969.6 987.1 L971.2 987.3 L972.8 987.3 L974.4 986.8 L976.0 987.2 L977.6 987.2 L979.2 987.1 L980.8 986.9 L982.4 987.0 L984.0 987.0 L985.6 987.2 L987.2 987.0 L988.8 986.7 L990.5 986.9 L992.1 986.9 L993.7 987.2 L995.3 986.8 L996.9 986.8 L998.5 986.8 L1000.2 986.6 L1001.8 987.0 L1003.4 987.5 L1005.0 986.9 L1006.6 986.6 L1008.2 987.3 L1009.9 986.9 L1011.5 987.2 L1013.1 987.4 L1014.7 987.0 L1016.3 987.4 L1018.0 987.2 L1019.6 987.5 L1021.2 987.4 L1022.8 987.6 L1024.4 987.4 L1026.0 986.9 L1027.7 987.1 L1029.3 987.5 L1030.9 987.5 L1032.5 987.4 L1034.1 987.6 L1035.7 987.5 L1037.4 987.2 L1039.0 987.3 L1040.6 986.6 L1042.2 987.1 L1043.8 987.4 L1045.5 987.7 L1047.1 987.6 L1048.7 987.1 L1050.3 986.9 L1051.9 987.7 L1053.5 987.4 L1055.2 986.8 L1056.8 986.7 L1058.4 987.7 L1060.0 987.3 L1061.6 987.2 L1063.3 986.7 L1065.0 987.8 L1066.6 987.3 L1068.3 987.5 L1070.0 987.5 L1071.6 986.8 L1073.3 987.1 L1075.0 986.7 L1076.6 987.2 L1078.3 987.0 L1080.0 987.4 L1081.6 986.5 L1083.3 986.6 L1085.0 986.8 L1086.7 986.4 L1088.3 986.8 L1090.0 987.5 L1091.7 987.3 L1093.3 986.5 L1095.0 987.3 L1096.7 986.5 L1098.3 986.5 L1100.0 986.8 L1101.8 986.6 L1103.5 985.8 L1105.3 985.4 L1107.1 984.9 L1108.9 984.6 L1110.6 984.3 L1112.4 984.3 L1114.1 984.9 L1115.7 983.9 L1117.4 984.6 L1119.0 984.3 L1120.7 985.0 L1122.3 984.2 L1124.0 984.7 L1125.6 985.3 L1127.3 984.5 L1128.9 985.0 L1130.6 985.0 L1132.2 985.3 L1133.9 985.6 L1135.5 985.0 L1137.2 985.6 L1138.8 985.9 L1140.4 985.1 L1142.1 985.6 L1143.7 984.7 L1145.3 984.5 L1146.9 984.6 L1148.5 984.3 L1150.1 984.4 L1151.8 984.2 L1153.4 984.0 L1155.0 984.8 L1156.6 984.3 L1158.2 984.2 L1159.8 984.1 L1161.5 984.3 L1163.1 983.3 L1164.7 983.2 L1166.3 983.8 L1167.9 982.9 L1169.6 983.4 L1171.2 983.5 L1172.8 983.6 L1174.4 983.1 L1176.0 982.6 L1177.6 983.2 L1179.3 983.2 L1180.9 983.6 L1182.5 983.1 L1184.1 984.0 L1185.7 984.4 L1187.3 984.0 L1189.0 984.3 L1190.6 984.6 L1192.2 984.7 L1193.8 984.8 L1195.4 984.5 L1197.0 984.1 L1198.7 985.1 L1200.3 985.2 L1201.9 985.2 L1203.5 984.8 L1205.1 985.7 L1206.8 985.4 L1208.4 985.1 L1210.0 985.8 L1211.6 985.6 L1213.2 985.3 L1214.8 985.4 L1216.5 986.3 L1218.1 985.3 L1219.7 986.4 L1221.3 985.9 L1222.9 986.2 L1224.5 986.4 L1226.2 986.7 L1227.8 986.0 L1229.4 985.9 L1231.0 986.5 L1232.6 986.2 L1234.3 986.5 L1235.9 986.2 L1237.5 986.3 L1239.1 986.9 L1240.7 986.4 L1242.3 986.7 L1244.0 986.9 L1245.6 986.7 L1247.2 987.6 L1248.8 987.3 L1250.4 987.8 L1252.0 986.7 L1253.6 987.7 L1255.2 986.9 L1256.8 987.6 L1258.4 986.8 L1260.0 987.6 L1261.6 987.8 L1263.2 987.0 L1264.8 986.9 L1266.4 987.1 L1268.0 987.7 L1269.6 987.6 L1271.2 986.9 L1272.8 987.8 L1274.4 987.6 L1276.0 987.9 L1277.6 987.9 L1279.2 986.9 L1280.8 987.6 L1282.4 986.7 L1284.0 986.9 L1285.6 987.3 L1287.2 987.0 L1288.8 987.0 L1290.4 987.1 L1292.0 987.3 L1293.6 987.8 L1295.2 987.4 L1296.8 987.4 L1298.4 987.3 L1300.0 987.6 L1301.6 986.9 L1303.3 987.7 L1304.9 987.6 L1306.5 987.7 L1308.1 987.2 L1309.7 987.4 L1311.4 986.8 L1313.0 987.3 L1314.6 987.5 L1316.2 987.8 L1317.8 987.8 L1319.4 987.1 L1321.1 987.6 L1322.7 987.7 L1324.3 987.9 L1325.9 987.5 L1327.5 987.1 L1329.1 987.7 L1330.8 986.7 L1332.4 987.4 L1334.0 987.3 L1335.6 987.3 L1337.4 988.0 L1339.1 987.9 L1340.8 987.9 L1342.6 988.1 L1344.3 988.3 L1346.0 988.9 L1347.8 989.2 L1349.5 989.2 L1351.2 989.4 L1353.0 989.8 L1354.7 991.0 L1356.5 991.9 L1358.3 993.3 L1360.1 994.4 L1361.8 995.5 L1363.6 996.9 L1365.4 998.0 L1367.2 999.7 L1369.1 1001.6 L1371.0 1003.6 L1372.8 1005.4 L1374.6 1006.7 L1376.3 1007.2 L1378.0 1008.3 L1379.8 1009.2 L1381.5 1010.4 L1383.2 1009.5 L1385.0 1008.9 L1386.7 1008.3 L1388.4 1007.2 L1390.2 1006.6 L1392.0 1004.3 L1393.9 1001.6 L1395.8 999.2 L1397.6 996.7 L1399.3 995.7 L1400.9 994.7 L1402.6 993.4 L1404.2 992.7 L1405.9 991.5 L1407.5 990.5 L1409.2 990.6 L1410.8 990.2 L1412.5 989.9 L1414.2 990.1 L1415.8 989.3 L1417.5 989.0 L1419.1 988.9 L1420.8 989.1 L1422.4 988.8 L1424.0 988.4 L1425.7 988.9 L1427.3 988.4 L1428.9 988.5 L1430.5 988.7 L1432.1 988.2 L1433.7 988.5 L1435.4 988.9 L1437.0 988.7 L1438.6 988.4 L1440.2 988.8 L1441.8 988.5 L1443.4 988.6 L1445.1 988.2 L1446.7 988.2 L1448.3 988.4 L1449.9 988.4 L1451.5 988.4 L1453.2 987.9 L1454.8 988.1 L1456.4 988.0 L1458.0 987.9 L1459.6 988.0 L1461.2 987.7 L1462.8 988.2 L1464.4 987.8 L1466.0 987.9 L1467.6 987.7 L1469.2 988.2 L1470.8 988.1 L1472.4 987.7 L1474.0 988.4 L1475.6 988.4 L1477.2 988.2 L1478.8 988.3 L1480.4 988.2 L1482.0 987.7 L1483.6 987.9 L1485.2 987.8 L1486.8 987.7 L1488.4 988.2 L1490.0 988.1 L1491.6 987.9 L1493.2 988.2 L1494.8 987.8 L1496.4 987.9 L1498.0 987.7 L1499.6 987.8 L1501.2 988.3 L1502.8 988.0 L1504.4 988.2 L1506.0 988.3 L1507.6 988.2 L1509.2 988.0 L1510.8 988.0 L1512.5 988.5 L1514.1 987.9 L1515.7 988.2 L1517.3 988.6 L1518.9 988.5 L1520.5 988.3 L1522.2 988.7 L1523.8 988.7 L1525.4 988.8 L1527.0 988.5 L1528.6 988.8 L1530.3 988.9 L1531.9 989.1 L1533.5 988.9 L1535.1 989.3 L1536.7 989.1 L1538.3 988.8 L1540.0 989.1 L1541.6 988.9 L1543.2 989.3 L1544.8 989.1 L1546.4 989.3 L1548.2 990.1 L1549.9 989.9 L1551.6 990.6 L1553.4 991.0 L1555.1 991.0 L1556.8 991.6 L1558.6 991.7 L1560.3 992.2 L1562.1 992.6 L1563.8 993.0 L1565.6 994.4 L1567.3 995.5 L1569.1 996.5 L1570.9 998.1 L1572.6 999.2 L1574.4 1000.5 L1576.2 1001.7 L1577.8 1004.5 L1579.5 1007.7 L1581.2 1010.5 L1582.8 1013.4 L1584.5 1016.2 L1586.1 1019.0 L1593.6 1041.4 L1595.2 1044.9 L1596.8 1048.4 L1598.4 1052.1 L1600.0 1055.5 L1601.7 1057.6 L1603.4 1059.4 L1605.1 1061.5 L1606.8 1063.5 L1608.5 1065.5 L1610.3 1067.8 L1612.0 1069.9 L1613.7 1072.9 L1615.4 1076.0 L1617.1 1078.9 L1618.8 1082.0 L1620.5 1085.2 L1622.2 1088.2 L1623.9 1091.4 L1625.5 1100.0 L1627.2 1103.3 L1628.9 1106.8 L1630.6 1110.4 L1632.3 1113.4 L1634.0 1116.8 L1635.7 1120.5 L1637.4 1123.9 L1639.1 1127.6 L1640.8 1130.8 L1642.6 1134.1 L1644.3 1137.9 L1646.0 1141.1 L1647.7 1144.6 L1649.4 1147.9 L1655.4 1165.8 L1660.2 1189.7 L1664.4 1213.7 L1668.5 1237.6 L1674.5 1261.5 L1681.7 1283.1 L1687.7 1298.0 L1689.7 1302.0 L1691.7 1305.3 L1693.7 1309.4 L1695.3 1310.4 L1697.0 1311.9 L1698.6 1312.9 L1700.2 1314.2 L1701.9 1313.2 L1703.5 1311.5 L1705.2 1310.8 L1706.8 1309.4 L1712.8 1291.4 L1717.6 1267.5 L1722.4 1243.6 L1726.6 1219.6 L1729.6 1195.7 L1733.1 1171.8 L1736.7 1147.9 L1741.5 1123.9 L1748.7 1100.0 L1749.6 1097.4 L1756.7 1077.1 L1762.7 1060.3 L1764.5 1058.3 L1766.3 1056.1 L1768.1 1054.2 L1769.9 1052.0 L1771.8 1049.6 L1773.7 1047.1 L1775.6 1044.6 L1777.6 1042.5 L1779.5 1040.0 L1781.3 1038.6 L1783.1 1037.5 L1784.9 1036.1 L1786.6 1035.2 L1788.4 1035.5 L1790.2 1036.3 L1792.0 1036.7 L1793.8 1037.6 L1795.6 1039.4 L1797.4 1041.1 L1799.2 1042.7 L1801.0 1044.8 L1804.8 1055.9 L1808.4 1079.8 L1811.4 1096.6 L1813.5 1097.1 L1815.6 1097.8 L1817.5 1094.1 L1819.5 1090.4 L1821.5 1087.0 L1826.3 1075.0 L1828.3 1074.1 L1830.3 1072.9 L1832.3 1072.0 L1834.1 1072.7 L1835.9 1074.1 L1837.7 1075.0 L1839.5 1075.6 L1841.5 1076.5 L1843.5 1077.7 L1845.5 1078.6 L1847.3 1078.8 L1849.1 1078.8 L1850.8 1079.1 L1852.6 1079.2 L1854.6 1077.9 L1856.6 1076.7 L1858.6 1075.6 L1860.6 1075.6 L1862.6 1075.4 L1864.6 1075.6 L1866.6 1076.9 L1868.6 1078.7 L1870.6 1079.8 L1872.6 1081.2 L1874.6 1082.1 L1876.6 1083.4 L1878.6 1082.1 L1880.6 1080.1 L1882.6 1078.6 L1884.4 1078.7 L1886.1 1078.2 L1887.9 1078.4 L1889.7 1078.0 L1891.7 1079.4 L1893.7 1081.0 L1895.7 1082.2 L1900.5 1094.2 L1904.1 1109.7 L1907.7 1127.7 L1911.3 1142.0 L1913.1 1143.9 L1914.9 1146.2 L1916.9 1144.8 L1918.8 1143.3 L1920.8 1142.0 L1922.8 1139.8 L1924.8 1137.5 L1926.8 1134.9 L1928.8 1133.6 L1930.8 1132.8 L1932.8 1131.9 L1934.6 1132.1 L1936.4 1132.5 L1938.2 1133.0 L1940.0 1133.7 L1942.4 1137.6 L1944.8 1142.0 L1948.4 1154.0 L1951.4 1166.0 L1954.3 1177.9 L1956.3 1180.2 L1958.3 1182.7 L1960.3 1185.1 L1962.7 1190.1 L1965.1 1194.7 L1968.7 1206.6 L1971.7 1223.4 L1971.1 1220.0 L1974.1 1243.9 L1977.1 1267.9 L1980.7 1291.8 L1984.9 1315.7 L1989.0 1330.1 L1992.6 1340.8 L1995.0 1340.6 L1997.4 1340.2 L1999.8 1333.7 L2002.2 1339.6 L2003.4 1331.3 L2006.4 1337.9 L2007.6 1327.7 L2010.0 1334.9 L2011.2 1322.9 L2013.6 1331.3 L2014.8 1320.5"/>
</g>
<g id="labels0" filter="url(#hard)">
<text transform="translate(1722.5 1328.6) rotate(-90) scale(0.9877 1)" font-size="65.3" fill="#000" text-anchor="end">(1013)</text>
</g>
<g id="dashes">
<line x1="1718.5" y1="68.2" x2="1718.5" y2="1538.1" stroke="#bebebe" stroke-width="5" stroke-dasharray="19.600 16.665" shape-rendering="crispEdges"/>
<line x1="1884.5" y1="65.1" x2="1884.5" y2="1535.0" stroke="#bebebe" stroke-width="5" stroke-dasharray="19.600 16.665" shape-rendering="crispEdges"/>
<line x1="1937.5" y1="61.3" x2="1937.5" y2="1531.2" stroke="#bebebe" stroke-width="5" stroke-dasharray="19.600 16.665" shape-rendering="crispEdges"/>
<line x1="1992.5" y1="61.3" x2="1992.5" y2="1531.2" stroke="#bebebe" stroke-width="5" stroke-dasharray="19.600 16.665" shape-rendering="crispEdges"/>
</g>
<g id="labels" filter="url(#hard)">
<text transform="translate(1399.8 192.2) rotate(-90) scale(0.9877 1)" font-size="65.3" fill="#0000ff" text-anchor="end">(1637)</text>
<text transform="translate(1742.0 468.2) rotate(-90) scale(0.9877 1)" font-size="65.3" fill="#0000ff" text-anchor="end">(976)</text>
<text transform="translate(1896.0 189.7) rotate(-90) scale(0.9877 1)" font-size="65.3" fill="#0000ff" text-anchor="end">(661)</text>
<text transform="translate(1949.7 215.5) rotate(-90) scale(0.9877 1)" font-size="65.3" fill="#0000ff" text-anchor="end">(551)</text>
<text transform="translate(2004.2 247.2) rotate(-90) scale(0.9877 1)" font-size="65.3" fill="#0000ff" text-anchor="end">(444)</text>
<text transform="translate(1395.3 591.2) rotate(-90) scale(0.9877 1)" font-size="65.3" fill="#00ffff" text-anchor="end">(1643)</text>
<text transform="translate(1744.2 958.2) rotate(-90) scale(0.9877 1)" font-size="65.3" fill="#00ffff" text-anchor="end">(964)</text>
<text transform="translate(1895.7 686.1) rotate(-90) scale(0.9877 1)" font-size="65.3" fill="#00ffff" text-anchor="end">(666)</text>
<text transform="translate(1949.0 893.2) rotate(-90) scale(0.9877 1)" font-size="65.3" fill="#00ffff" text-anchor="end">(543)</text>
<text transform="translate(2003.0 864.5) rotate(-90) scale(0.9877 1)" font-size="65.3" fill="#00ffff" text-anchor="end">(459)</text>
<text transform="translate(1403.5 1024.9) rotate(-90) scale(0.9877 1)" font-size="65.3" fill="#000" text-anchor="end">(1629)</text>
<text transform="translate(1928.6 1162.6) rotate(-90) scale(0.9877 1)" font-size="65.3" fill="#000" text-anchor="end">(599)</text>
<text transform="translate(2005.2 1354.2) rotate(-90) scale(0.9877 1)" font-size="65.3" fill="#000" text-anchor="end">(439)</text>
<text x="833.1" y="144.1" font-size="78" fill="#0000ff">LTA C 6 h</text>
<text x="836.2" y="534.9" font-size="78" fill="#00ffff">LTA P 6 h</text>
<text x="819.8" y="953.8" font-size="78" fill="#000">Clinoptilolite</text>
</g>
<g id="dash-top">
<line x1="1380.5" y1="65.1" x2="1380.5" y2="1535.0" stroke="#bebebe" stroke-width="5" stroke-dasharray="19.600 16.665" shape-rendering="crispEdges"/>
</g>
<g id="ticklabels" filter="url(#hard)" font-size="78.3" fill="#000" text-anchor="middle">
<text x="160.2" y="1661.5">4000</text>
<text x="418.0" y="1661.5">3500</text>
<text x="675.8" y="1661.5">3000</text>
<text x="933.6" y="1661.5">2500</text>
<text x="1191.3" y="1661.5">2000</text>
<text x="1449.1" y="1661.5">1500</text>
<text x="1706.9" y="1661.5">1000</text>
<text x="1964.7" y="1661.5">500</text>
</g>
<g id="titles" filter="url(#hard)">
<text id="xtitle" y="1849" fill="#000" font-size="87" font-weight="bold" xml:space="preserve"><tspan x="714.3" textLength="497.5" lengthAdjust="spacingAndGlyphs">Wavenumber</tspan><tspan font-size="77.5" font-weight="normal"> </tspan><tspan x="1231.3" font-size="77.5" font-weight="normal">(</tspan><tspan x="1257.9" textLength="108" lengthAdjust="spacingAndGlyphs">cm</tspan><tspan x="1364.7" y="1798" textLength="70.5" lengthAdjust="spacingAndGlyphs">-1</tspan><tspan x="1435.7" y="1849" font-size="77.5" font-weight="normal">)</tspan></text>
<text id="ytitle" transform="translate(94.4 1075.1) rotate(-90)" font-size="87" font-weight="bold" fill="#000" textLength="537.3" lengthAdjust="spacingAndGlyphs">Transmittance</text>
</g>
</svg>
</body></html>
